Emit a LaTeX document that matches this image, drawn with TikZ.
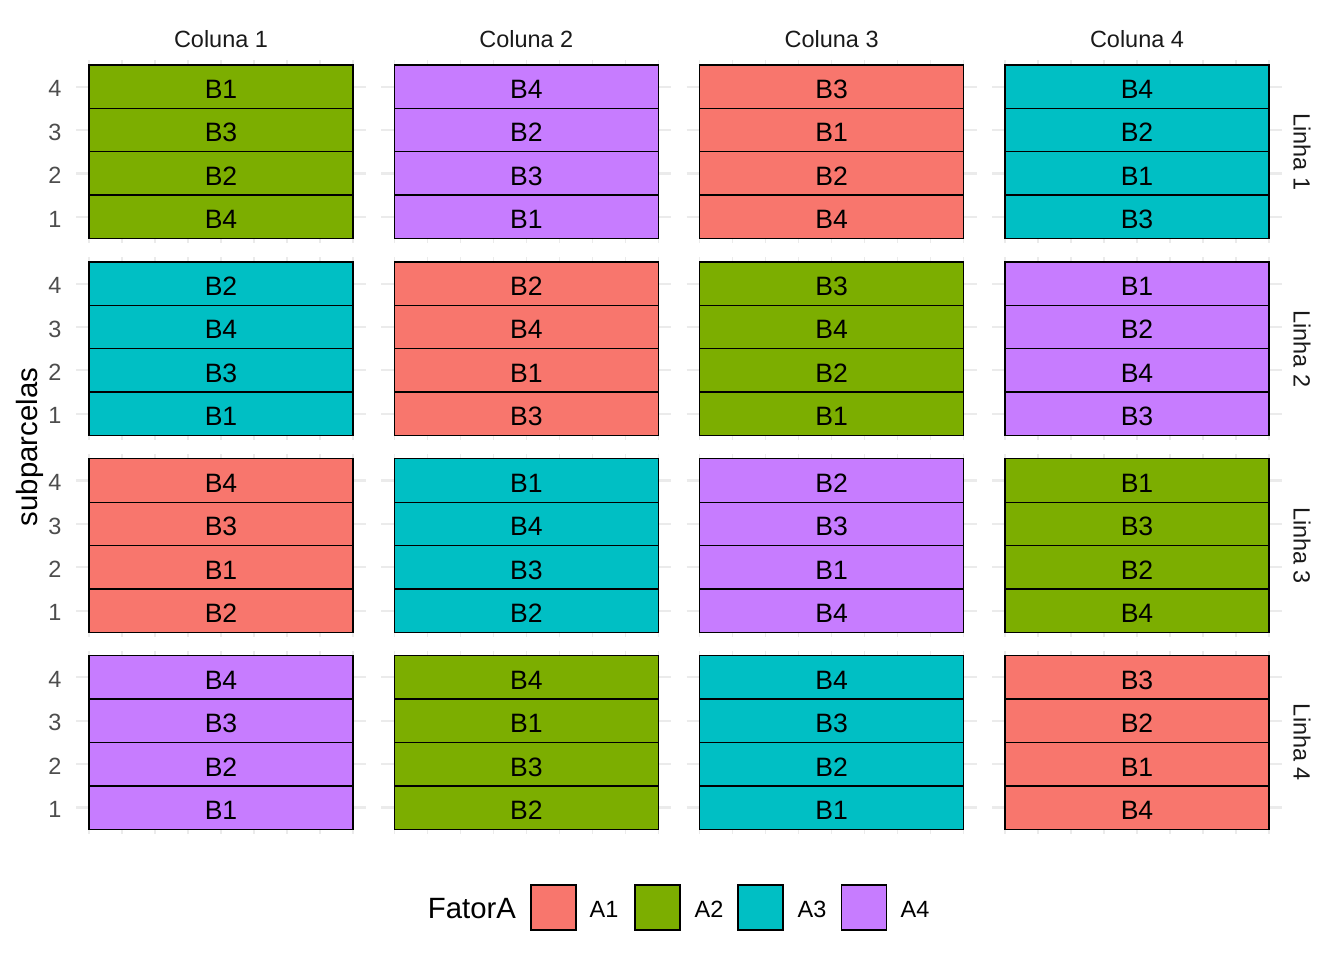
\documentclass[tikz,border=0pt]{standalone}
\usepackage{fontspec}
\setmainfont{Liberation Sans}
\definecolor{fA1}{HTML}{F8766D}
\definecolor{fA2}{HTML}{7CAE00}
\definecolor{fA3}{HTML}{00BFC4}
\definecolor{fA4}{HTML}{C77CFF}
\definecolor{gridc}{HTML}{EBEBEB}
\definecolor{axtxt}{HTML}{4D4D4D}
\definecolor{striptxt}{HTML}{1A1A1A}
\begin{document}
\begin{tikzpicture}[x=0.375pt,y=-0.375pt,
  cellbox/.style={draw=black,line width=0.5pt,minimum width=99pt,minimum height=16.27pt,inner sep=0pt,outer sep=0pt,font=\fontsize{9.96}{12}\selectfont,text=black,text height=8.9pt,text depth=0pt},
  hgrid/.style={draw=gridc,line width=0.8pt},
  vgrid/.style={draw=gridc,line width=0.6pt},
  axlab/.style={font=\fontsize{8.8}{10}\selectfont,text=axtxt,inner sep=0pt,yshift=-0.8pt},
  striplab/.style={font=\fontsize{8.8}{10}\selectfont,text=striptxt,inner sep=0pt},
  titlelab/.style={font=\fontsize{11}{13}\selectfont,text=black,inner sep=0pt},
  keybox/.style={draw=black,line width=0.5pt,minimum width=16.9pt,minimum height=16.9pt,inner sep=0pt},
  leglab/.style={font=\fontsize{8.8}{10}\selectfont,text=black,inner sep=0pt}
]
\useasboundingbox (0,0) rectangle (1344,960);
% panel grids
\foreach \r in {0,...,3}{
  \foreach \c in {0,...,3}{
    \pgfmathsetmacro{\xl}{89+305.33*\c}
    \pgfmathsetmacro{\yt}{65+196.9*\r}
    \foreach \k in {0,...,3}{
      \draw[hgrid] (\xl-13,\yt+21.69+43.375*\k) -- (\xl+277,\yt+21.69+43.375*\k);
    }
    \foreach \k in {0,...,8}{
      \draw[vgrid] (\xl+33*\k,\yt-4.7) -- (\xl+33*\k,\yt+178.2);
    }
  }
}
% cells
\foreach \r/\c/\f/\pa/\pb/\pc/\pd in {
  0/0/fA2/B1/B3/B2/B4, 0/1/fA4/B4/B2/B3/B1, 0/2/fA1/B3/B1/B2/B4, 0/3/fA3/B4/B2/B1/B3,
  1/0/fA3/B2/B4/B3/B1, 1/1/fA1/B2/B4/B1/B3, 1/2/fA2/B3/B4/B2/B1, 1/3/fA4/B1/B2/B4/B3,
  2/0/fA1/B4/B3/B1/B2, 2/1/fA3/B1/B4/B3/B2, 2/2/fA4/B2/B3/B1/B4, 2/3/fA2/B1/B3/B2/B4,
  3/0/fA4/B4/B3/B2/B1, 3/1/fA2/B4/B1/B3/B2, 3/2/fA3/B4/B3/B2/B1, 3/3/fA1/B3/B2/B1/B4}{
  \pgfmathsetmacro{\xc}{221+305.33*\c}
  \pgfmathsetmacro{\yt}{65+196.9*\r}
  \node[cellbox,fill=\f] (cell-\r-\c-4) at (\xc,\yt+21.69) {\pa};
  \node[cellbox,fill=\f] (cell-\r-\c-3) at (\xc,\yt+65.06) {\pb};
  \node[cellbox,fill=\f] (cell-\r-\c-2) at (\xc,\yt+108.44) {\pc};
  \node[cellbox,fill=\f] (cell-\r-\c-1) at (\xc,\yt+151.81) {\pd};
}
% y axis labels
\foreach \r in {0,...,3}{
  \pgfmathsetmacro{\yt}{65+196.9*\r}
  \foreach \k/\v in {0/4,1/3,2/2,3/1}{
    \node[axlab,anchor=east] (ylab-\r-\v) at (62,\yt+21.69+43.375*\k) {\v};
  }
}
% strips
\foreach \c in {1,...,4}{
  \node[striplab] (col-\c) at (221+305.33*\c-305.33,39) {Coluna \c};
}
\foreach \r in {1,...,4}{
  \node[striplab,rotate=-90] (lin-\r) at (1302,151.75+196.9*\r-196.9) {Linha \r};
}
\node[titlelab,rotate=90] (ytitle) at (30,447) {subparcelas};
% legend
\node[titlelab] (legtitle) at (472,909) {FatorA};
\node[keybox,fill=fA1] (key1) at (553.5,907.5) {};
\node[keybox,fill=fA2] (key2) at (657.5,907.5) {};
\node[keybox,fill=fA3] (key3) at (760.5,907.5) {};
\node[keybox,fill=fA4] (key4) at (864,907.5) {};
\node[leglab] (leg1) at (604,909) {A1};
\node[leglab] (leg2) at (709,909) {A2};
\node[leglab] (leg3) at (812,909) {A3};
\node[leglab] (leg4) at (915,909) {A4};
\end{tikzpicture}
\end{document}
